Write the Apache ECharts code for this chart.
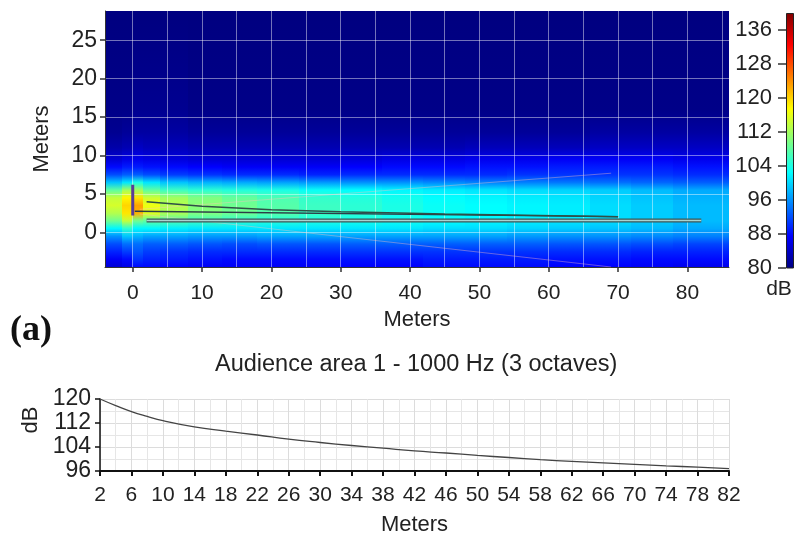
<!DOCTYPE html>
<html><head><meta charset="utf-8">
<script src="https://cdn.jsdelivr.net/npm/echarts@6/dist/echarts.min.js"></script>
<style>html,body{margin:0;padding:0;background:#fff}#c{width:803px;height:535px}</style>
</head><body><div id="c"></div>
<script>
// ---------- DATA ----------
// Sound-field map: column edges (m), row heights (m), dB per column (bottom -> top)
const fieldXEdges = [-4, -1.5, 0, 1.5, 4, 8, 13, 18, 24, 30, 36, 42, 48, 54, 60, 66, 72, 78, 86];
const fieldYRows = [-4.5, -3.5, -2.5, -1.5, -0.5, 0.5, 1.5, 2.5, 3.5, 4.5, 5.5, 6.5, 7.5, 8.5, 9.5, 11, 13, 16, 29];
const fieldColumns = [
  [85, 87, 89.5, 92, 96, 102, 109, 113, 115, 114, 108, 99, 92, 88, 85, 82.5, 81, 80.5, 80],
  [86, 88, 91, 94, 99, 105, 114, 119, 120, 118, 112, 101, 93, 89, 86, 83, 81.5, 80.5, 80],
  [88, 90.5, 92.5, 94, 98, 102, 109, 122, 123, 119, 112, 104, 93, 89, 86.5, 84, 82, 81, 80],
  [88, 89.5, 91, 93, 97, 102, 108, 115.5, 116.5, 114.5, 108, 101, 92, 88.5, 86, 83.5, 82, 81, 80],
  [87.5, 89, 90.5, 93, 97, 101.5, 107, 112.5, 113, 112, 106, 99, 91, 88, 85.5, 83.5, 82, 81, 80],
  [87, 88.5, 90, 92.5, 96.5, 101, 106, 110, 110.5, 110, 105, 98, 90.5, 87.5, 85, 83, 81.5, 80.5, 80],
  [87, 88, 90, 92, 96.5, 101, 105, 109, 109, 108.5, 104.5, 97.5, 90, 87, 85, 83, 81.5, 80.5, 80],
  [87, 88, 90, 92.5, 97, 101, 104.5, 107.5, 107.5, 107, 104, 97, 90, 87, 85, 83, 81.5, 80.5, 80],
  [87, 88, 90, 92.5, 97, 101, 104, 106, 106, 105.5, 103, 96.5, 89.5, 87, 85, 83, 81.5, 80.5, 80],
  [87.5, 88.5, 90.5, 93, 97, 101, 103.5, 105, 105, 104.5, 102.5, 96, 90, 87.5, 85.5, 83, 81.5, 80.5, 80],
  [87.5, 88.5, 90.5, 93, 97, 101, 103, 104, 104, 103.5, 102, 96, 90, 88, 86, 83, 81.5, 80.5, 80],
  [88, 89, 90.5, 93, 97, 100.5, 102.5, 103, 103, 102.5, 101.5, 95.5, 90, 88, 86, 83, 81.5, 80.5, 80],
  [88, 89, 90.5, 93, 97, 100.5, 102, 102.5, 102.5, 102, 101, 95, 90, 88.5, 86.5, 83.5, 81.5, 80.5, 80],
  [88, 89, 90.5, 93, 96.5, 100, 101.5, 102, 102, 101.5, 100.5, 95, 90.5, 88.5, 86.5, 83.5, 81.5, 80.5, 80],
  [87.5, 88.5, 90, 92.5, 96, 99.5, 101, 101.5, 101.5, 101, 100, 94.5, 90.5, 89, 87, 83.5, 81.5, 80.5, 80],
  [87.5, 88.5, 90, 92.5, 96, 99, 100.5, 100.5, 100.5, 100, 99.5, 94, 90.5, 89, 87, 84, 82, 80.5, 80],
  [87, 88, 89.5, 92, 95.5, 98.5, 99.5, 99.5, 99.5, 99, 98.5, 93.5, 90.5, 89, 87, 84, 82, 80.5, 80],
  [86.5, 88, 89.5, 91.5, 95, 97.5, 98.5, 98.5, 98.5, 98, 97.5, 93, 90, 88.5, 86.5, 84, 82, 80.5, 80]
];
// Geometry lines in the map (x, y in metres)
const speakerLine = [[0, 2.2], [0, 6.2]];
const speakerBaseLine = [[0.3, 2.75], [70, 2.05]];
const audienceUpper = [[2, 4.0], [10, 3.4], [20, 2.95], [30, 2.7], [45, 2.4], [70, 2.05]];
const audienceLower = [[2, 1.55], [82, 1.55]];
const coverageUp = [[1, 3.0], [69, 7.7]];
const coverageDown = [[1, 2.4], [69, -4.5]];
// Tick labels
const mapXTicks = [0, 10, 20, 30, 40, 50, 60, 70, 80];
const mapXGrid = [0, 5, 10, 15, 20, 25, 30, 35, 40, 45, 50, 55, 60, 65, 70, 75, 80, 85];
const mapYTicks = [0, 5, 10, 15, 20, 25];
const cbarTicks = [80, 88, 96, 104, 112, 120, 128, 136];
// Audience-area level curve
const distance = [2, 4, 6, 8, 10, 14, 18, 22, 26, 30, 34, 38, 42, 46, 50, 54, 58, 62, 66, 70, 74, 78, 82];
const level = [120, 117.8, 115.8, 114.2, 112.8, 110.7, 109.3, 108.0, 106.6, 105.5, 104.5, 103.6, 102.7, 102.0, 101.2, 100.5, 99.8, 99.2, 98.7, 98.2, 97.7, 97.3, 96.8];

// ---------- STYLE ----------
const FONT = '"Liberation Sans", Arial, sans-serif';
const TXT = '#222';
const jetDb = [80, 87.5, 102.5, 110, 117.5, 132.5, 140];
const jetCol = [[0,0,128],[0,0,255],[0,255,255],[128,255,128],[255,255,0],[255,0,0],[128,0,0]];
function jet(v) {
  if (v <= jetDb[0]) return 'rgb(' + jetCol[0].join(',') + ')';
  for (let i = 1; i < jetDb.length; i++) {
    if (v <= jetDb[i]) {
      const t = (v - jetDb[i-1]) / (jetDb[i] - jetDb[i-1]);
      const a = jetCol[i-1], b = jetCol[i];
      return 'rgb(' + [0,1,2].map(k => Math.round(a[k] + (b[k]-a[k]) * t)).join(',') + ')';
    }
  }
  return 'rgb(' + jetCol[jetCol.length-1].join(',') + ')';
}
const MAP_X = [-4, 86], MAP_Y = [-4.5, 28.8], CB = [80, 140];

const chart = echarts.init(document.getElementById('c'), null, {renderer: 'canvas'});

function renderField(params, api) {
  const x0 = api.value(0), x1 = api.value(1), ci = api.value(2);
  const p0 = api.coord([x0, MAP_Y[1]]);
  const p1 = api.coord([x1, MAP_Y[0]]);
  const col = fieldColumns[ci];
  const span = MAP_Y[1] - MAP_Y[0];
  const stops = fieldYRows.map((y, i) => ({
    offset: Math.min(1, Math.max(0, (MAP_Y[1] - y) / span)),
    color: jet(col[i])
  })).reverse();
  const xa = Math.floor(p0[0]), xb = Math.ceil(p1[0]) + (ci < fieldColumns.length - 1 ? 1 : 0);
  return {
    type: 'rect',
    shape: {x: xa, y: p0[1], width: xb - xa, height: p1[1] - p0[1]},
    style: {fill: new echarts.graphic.LinearGradient(0, 0, 0, 1, stops)}
  };
}

const lineOpt = (data, color, width, z) => ({
  type: 'line', xAxisIndex: 0, yAxisIndex: 0, data: data, showSymbol: false, symbol: 'none',
  lineStyle: {color: color, width: width}, z: z, silent: true, animation: false
});

const txt = (size) => ({fontFamily: FONT, fontSize: size, color: TXT});

chart.setOption({
  animation: false,
  backgroundColor: '#fff',
  textStyle: {fontFamily: FONT},
  title: [
    {text: 'Audience area 1 - 1000 Hz (3 octaves)', left: 210, top: 348,
     textStyle: {fontFamily: FONT, fontSize: 23.5, fontWeight: 'normal', color: TXT}},
    {text: '(a)', left: 5, top: 308,
     textStyle: {fontFamily: '"Liberation Serif", "Times New Roman", serif', fontSize: 36, fontWeight: 'bold', color: '#111'}}
  ],
  grid: [
    {left: 105, top: 11, width: 624, height: 256, outerBoundsMode: 'none'},
    {left: 100, top: 399, width: 629, height: 72, outerBoundsMode: 'none'},
    {left: 786, top: 13, width: 8, height: 255, outerBoundsMode: 'none'}
  ],
  xAxis: [
    {gridIndex: 0, type: 'value', min: MAP_X[0], max: MAP_X[1], z: 3,
     axisLine: {show: true, onZero: false, lineStyle: {color: '#333', width: 1}},
     axisTick: {show: true, length: 5, customValues: mapXTicks, lineStyle: {color: '#333', width: 1.5}},
     axisLabel: Object.assign({customValues: mapXTicks, margin: 16}, txt(21)),
     splitLine: {show: false},
     name: 'Meters', nameLocation: 'middle', nameGap: 42,
     nameTextStyle: txt(22)},
    {gridIndex: 0, type: 'value', min: MAP_X[0], max: MAP_X[1], z: 3,
     axisLine: {show: false}, axisLabel: {show: false},
     axisTick: {show: false, customValues: mapXGrid},
     splitLine: {show: true, lineStyle: {color: 'rgba(255,255,255,0.45)', width: 1}}},
    {gridIndex: 1, type: 'value', min: 2, max: 82, interval: 4,
     axisLine: {show: true, onZero: false, lineStyle: {color: '#111', width: 2}},
     axisTick: {show: true, length: 5, lineStyle: {color: '#111', width: 2}},
     axisLabel: Object.assign({margin: 14}, txt(21)),
     splitLine: {show: true, lineStyle: {color: '#dcdcdc', width: 1}},
     minorTick: {show: false, splitNumber: 2},
     minorSplitLine: {show: true, lineStyle: {color: '#e6e6e6', width: 1}},
     name: 'Meters', nameLocation: 'middle', nameGap: 43,
     nameTextStyle: txt(22)},
    {gridIndex: 2, type: 'category', data: ['dB'], show: false}
  ],
  yAxis: [
    {gridIndex: 0, type: 'value', min: MAP_Y[0], max: MAP_Y[1], z: 3,
     axisLine: {show: true, onZero: false, lineStyle: {color: '#333', width: 1}},
     axisTick: {show: true, length: 5, customValues: mapYTicks, lineStyle: {color: '#333', width: 1.5}},
     axisLabel: Object.assign({customValues: mapYTicks, margin: 8}, txt(23)),
     splitLine: {show: true, lineStyle: {color: 'rgba(255,255,255,0.45)', width: 1}},
     name: 'Meters', nameLocation: 'middle', nameGap: 52,
     nameTextStyle: txt(22)},
    {gridIndex: 1, type: 'value', min: 96, max: 120, interval: 8,
     axisLine: {show: true, onZero: false, lineStyle: {color: '#111', width: 1.5}},
     axisTick: {show: true, length: 5, lineStyle: {color: '#111', width: 1.5}},
     axisLabel: Object.assign({margin: 9}, txt(23)),
     splitLine: {show: true, lineStyle: {color: '#dcdcdc', width: 1}},
     minorTick: {show: false, splitNumber: 2},
     minorSplitLine: {show: true, lineStyle: {color: '#e6e6e6', width: 1}},
     name: 'dB', nameLocation: 'middle', nameGap: 56,
     nameTextStyle: Object.assign({padding: [0, 0, 0, 30]}, txt(22))},
    {gridIndex: 2, type: 'value', min: CB[0], max: CB[1], position: 'left',
     axisLine: {show: false},
     axisTick: {show: true, inside: false, length: 8, customValues: cbarTicks, lineStyle: {color: '#333', width: 1.5}},
     axisLabel: Object.assign({customValues: cbarTicks, margin: 14}, txt(22)),
     splitLine: {show: false},
     name: 'dB', nameLocation: 'start', nameGap: 10,
     nameTextStyle: Object.assign({align: 'center', padding: [0, 14, 0, 0]}, txt(21))}
  ],
  series: [
    {type: 'custom', xAxisIndex: 0, yAxisIndex: 0, renderItem: renderField, silent: true, z: 1,
     clip: true,
     data: fieldXEdges.slice(0, -1).map((x, i) => [x, fieldXEdges[i + 1], i])},
    lineOpt(coverageUp, 'rgba(255,190,190,0.4)', 1, 4),
    lineOpt(coverageDown, 'rgba(255,190,190,0.4)', 1, 4),
    lineOpt(audienceLower, '#3a5656', 4, 5),
    lineOpt(audienceLower, '#a8d4d0', 1.5, 6),
    lineOpt(speakerBaseLine, '#2c3d48', 1.3, 5),
    lineOpt(audienceUpper, '#2f4f47', 1.5, 5),
    lineOpt(speakerLine, '#5a3c96', 3, 7),
    {type: 'bar', xAxisIndex: 3, yAxisIndex: 2, data: [CB[1]], barWidth: '100%', silent: true,
     itemStyle: {borderColor: '#222', borderWidth: 1,
       color: new echarts.graphic.LinearGradient(0, 1, 0, 0,
         jetDb.map((d, i) => ({offset: (d - CB[0]) / (CB[1] - CB[0]), color: 'rgb(' + jetCol[i].join(',') + ')'})))}},
    {type: 'line', xAxisIndex: 2, yAxisIndex: 1, data: distance.map((d, i) => [d, level[i]]),
     smooth: true, showSymbol: false, symbol: 'none', lineStyle: {color: '#444', width: 1.3}, z: 5}
  ]
});
</script></body></html>
